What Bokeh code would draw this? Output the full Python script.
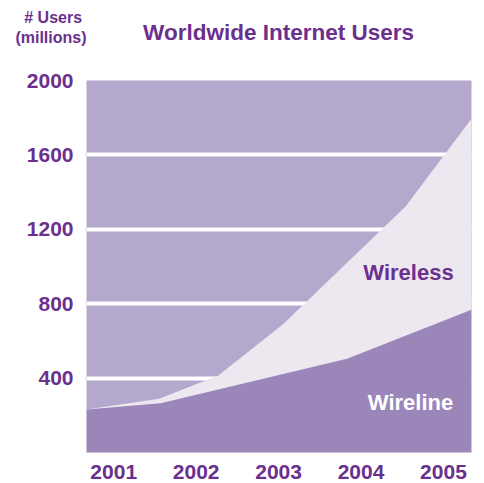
from bokeh.plotting import figure
from bokeh.models import Range1d, FixedTicker, Label
from bokeh.layouts import column
from bokeh.embed import file_html
from bokeh.resources import INLINE

# data (millions of users)
years = [2001, 2002, 2003, 2004, 2005]
y_ticks = [400, 800, 1200, 1600, 2000]
wireline_x = [2000.67, 2001.57, 2003.83, 2005.34]
wireline_y = [231, 265, 504, 767]
wireless_x = [2000.67, 2001.55, 2002.27, 2003.06, 2004.54, 2005.34]
wireless_y = [231, 289, 414, 692, 1323, 1794]

PURPLE = "#6b2f8e"
BG = "#b4a8cc"
LIGHT = "#ede7f0"
DARK = "#9b86ba"
FONT = "Liberation Sans"


def lab(fig, x, y, t, size, color=PURPLE):
    fig.add_layout(Label(x=x, y=y, text=t, text_font=FONT, text_font_style="bold",
                         text_font_size=size, text_color=color, text_align="center",
                         text_baseline="middle"))


# header strip (its frame is aligned with the chart frame; pixel coords, y downward)
h = figure(width=484, height=70, output_backend="svg", toolbar_location=None,
           x_range=Range1d(86, 471), y_range=Range1d(54, 0),
           x_axis_location=None, y_axis_location="left",
           min_border_left=86, min_border_right=13, min_border_top=0, min_border_bottom=16)
h.title = None
h.grid.visible = False
h.outline_line_color = None
h.background_fill_color = "white"
h.border_fill_color = "white"
hy = h.yaxis[0]
hy.ticker = FixedTicker(ticks=[])
hy.axis_line_color = None
hy.major_tick_line_color = None
hy.minor_tick_line_color = None
hy.axis_label = "# Users\u00a0\n(millions)"
hy.axis_label_orientation = "horizontal"
hy.axis_label_standoff = 0
hy.axis_label_text_font = FONT
hy.axis_label_text_font_style = "bold"
hy.axis_label_text_font_size = "16px"
hy.axis_label_text_color = PURPLE
hy.axis_label_text_align = "center"
lab(h, 278, 32, "Worldwide Internet Users", "22.5px")

# main chart
p = figure(width=484, height=413, output_backend="svg", toolbar_location=None,
           x_range=Range1d(2000.67, 2005.34), y_range=Range1d(0, 2000),
           min_border_left=86, min_border_right=13, min_border_top=10, min_border_bottom=31)
p.title = None
p.background_fill_color = BG
p.border_fill_color = "white"
p.outline_line_color = None

p.varea(x=wireless_x, y1=0, y2=wireless_y, fill_color=LIGHT, fill_alpha=1)
p.varea(x=wireline_x, y1=0, y2=wireline_y, fill_color=DARK, fill_alpha=1)

p.xgrid.visible = False
p.ygrid.ticker = FixedTicker(ticks=y_ticks[:-1])
p.ygrid.grid_line_color = "white"
p.ygrid.grid_line_width = 4

for ax in (p.xaxis[0], p.yaxis[0]):
    ax.axis_line_color = None
    ax.major_tick_line_color = None
    ax.minor_tick_line_color = None
    ax.major_label_text_font = FONT
    ax.major_label_text_font_style = "bold"
    ax.major_label_text_font_size = "21px"
    ax.major_label_text_color = PURPLE
p.xaxis.ticker = FixedTicker(ticks=years)
p.yaxis.ticker = FixedTicker(ticks=y_ticks)
p.xaxis.major_label_standoff = 6
p.yaxis.major_label_standoff = 7

lab(p, 2004.576, 969, "Wireless", "22px")
lab(p, 2004.6, 270, "Wireline", "22px", "white")

layout = column(h, p, spacing=0)
open("out.html", "w").write(file_html(layout, INLINE))
